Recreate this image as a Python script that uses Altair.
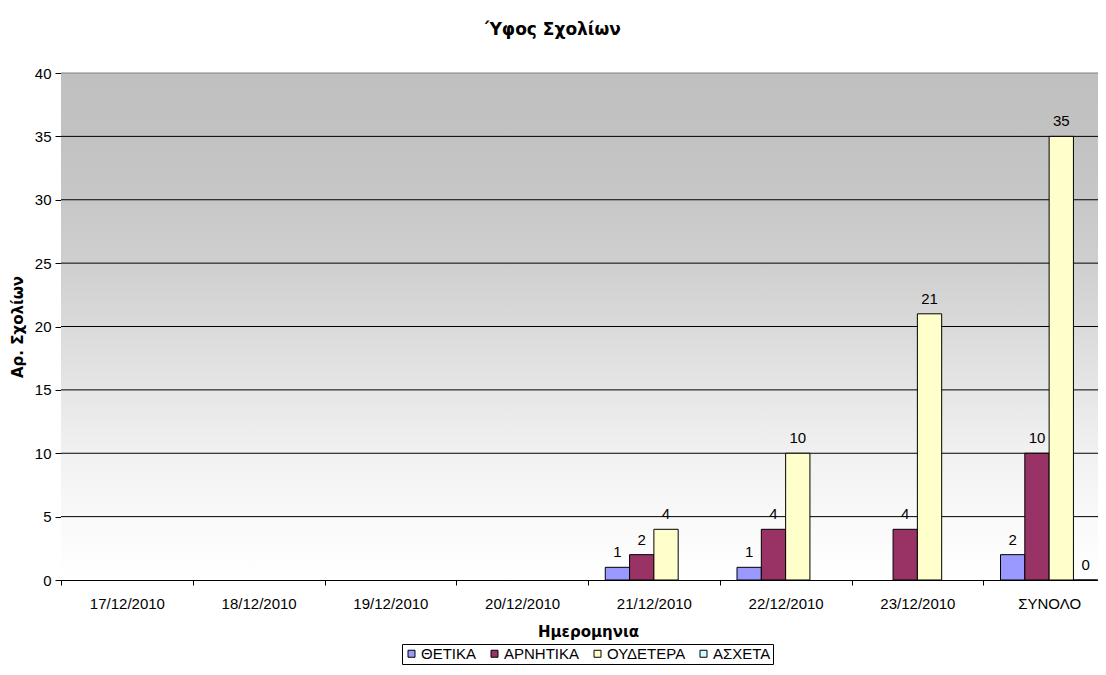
import altair as alt
import pandas as pd

dates = ["17/12/2010", "18/12/2010", "19/12/2010", "20/12/2010",
         "21/12/2010", "22/12/2010", "23/12/2010", "ΣΥΝΟΛΟ"]
series = ["ΘΕΤΙΚΑ", "ΑΡΝΗΤΙΚΑ", "ΟΥΔΕΤΕΡΑ", "ΑΣΧΕΤΑ"]
thetika = [None, None, None, None, 1, 1, None, 2]
arnitika = [None, None, None, None, 2, 4, 4, 10]
oudetera = [None, None, None, None, 4, 10, 21, 35]
asxeta = [None, None, None, None, None, None, None, 0]
colors = ["#9999FF", "#993366", "#FFFFCC", "#CCFFFF"]
y_ticks = [0, 5, 10, 15, 20, 25, 30, 35, 40]
grid_vals = [5, 10, 15, 20, 25, 30, 35, 40]

rows = []
for s, vals in zip(series, [thetika, arnitika, oudetera, asxeta]):
    for d, v in zip(dates, vals):
        if v is not None:
            rows.append({"date": d, "series": s, "value": v})
df = pd.DataFrame(rows)
grid_df = pd.DataFrame({"value": grid_vals})

W, H = 1054, 507
FONT = "Liberation Sans"
BOLD = "DejaVu Sans"

gradient = {
    "gradient": "linear", "x1": 0, "y1": 0, "x2": 0, "y2": 1,
    "stops": [
        {"offset": 0.0, "color": "#c0c0c0"},
        {"offset": 0.125, "color": "#c2c2c2"},
        {"offset": 0.25, "color": "#c7c7c7"},
        {"offset": 0.375, "color": "#cfcfcf"},
        {"offset": 0.5, "color": "#dadada"},
        {"offset": 0.625, "color": "#e6e6e6"},
        {"offset": 0.75, "color": "#f1f1f1"},
        {"offset": 0.875, "color": "#f9f9f9"},
        {"offset": 1.0, "color": "#ffffff"},
    ],
}

x_enc = alt.X(
    "date:N", sort=dates,
    scale=alt.Scale(domain=dates, paddingInner=0, paddingOuter=0),
    axis=alt.Axis(
        title="Ημερομηνια", labelAngle=0, tickBand="extent", tickSize=5,
        labelPadding=11, labelFont=FONT, labelFontSize=15, labelColor="black",
        tickColor="black", domainColor="black", grid=False,
        titleFont=BOLD, titleFontSize=15, titleFontWeight="bold", titleColor="black",
        titleY=56, titleBaseline="alphabetic",
    ),
)
xoff_enc = alt.XOffset(
    "series:N", scale=alt.Scale(domain=series, paddingInner=0, paddingOuter=0.71)
)
y_enc = alt.Y(
    "value:Q",
    scale=alt.Scale(domain=[0, 40], nice=False),
    axis=alt.Axis(
        title="Αρ. Σχολίων", values=y_ticks, tickSize=6, labelPadding=4,
        labelFont=FONT, labelFontSize=15, labelColor="black",
        tickColor="black", domainColor="black", grid=False,
        titleFont=BOLD, titleFontSize=15, titleFontWeight="bold", titleColor="black",
        titleX=-44, titleBaseline="middle",
    ),
)

background = alt.Chart(alt.Data(values=[{}])).mark_rect(fill=gradient).encode(
    x=alt.value(0), x2=alt.value(W), y=alt.value(0), y2=alt.value(H)
)

grid = alt.Chart(grid_df).mark_rule(strokeWidth=1).encode(
    y=alt.Y("value:Q"),
    stroke=alt.condition("datum.value == 40", alt.value("#808080"), alt.value("#000000")),
)

bars = alt.Chart(df).mark_bar(stroke="black", strokeWidth=1).encode(
    x=x_enc, xOffset=xoff_enc, y=y_enc,
    color=alt.Color(
        "series:N",
        scale=alt.Scale(domain=series, range=colors),
        legend=alt.Legend(
            title=None, orient="none", legendX=341, legendY=571, direction="horizontal",
            symbolType="square", symbolSize=49, symbolStrokeColor="black", symbolStrokeWidth=1,
            labelFont=FONT, labelFontSize=15, labelColor="black", labelOffset=2,
            strokeColor="black", fillColor="white", padding=2, columnPadding=10,
        ),
    ),
)

labels = alt.Chart(df).mark_text(
    dy=-10, baseline="alphabetic", font=FONT, fontSize=15, color="black"
).encode(x=x_enc, xOffset=xoff_enc, y=y_enc, text="value:Q")

chart = alt.layer(background, grid, bars, labels).properties(
    width=W, height=H,
    autosize=alt.AutoSizeParams(type="none"),
    padding={"left": 53, "top": 65, "right": -17, "bottom": 87},
    title=alt.TitleParams(
        "Ύφος Σχολίων", font=BOLD, fontSize=17, fontWeight="bold", color="black",
        anchor="middle", dx=-35, offset=14, baseline="alphabetic",
    ),
).configure_view(stroke="transparent").configure(background="white")

chart.save("out.html", embed_options={"renderer": "svg", "actions": False})
